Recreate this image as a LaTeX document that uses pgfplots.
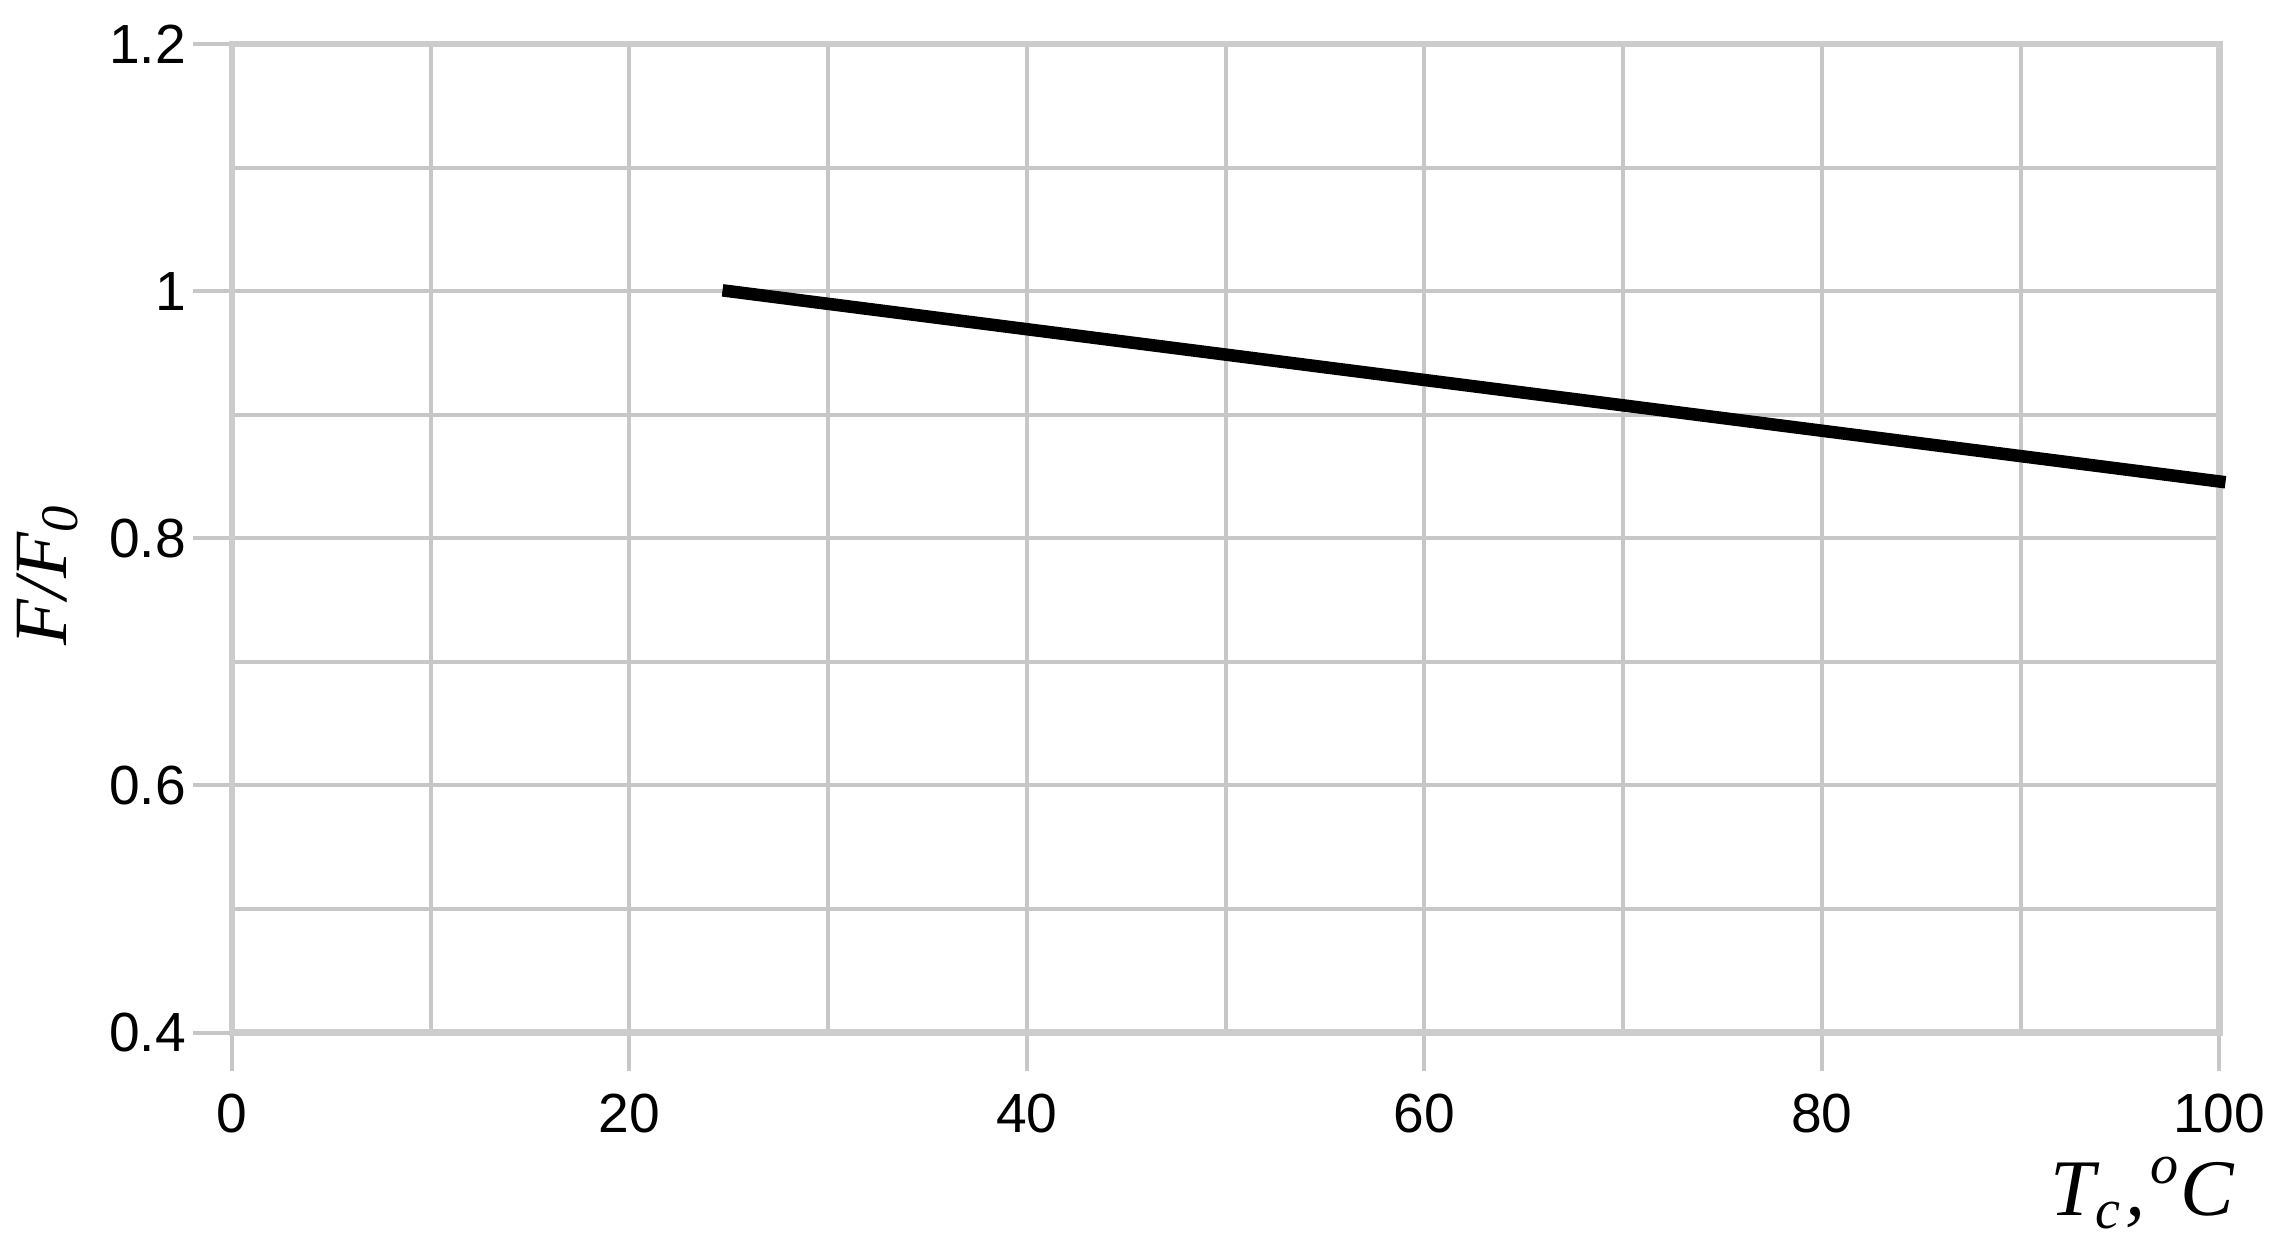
\documentclass[border=0pt]{standalone}
\usepackage{fontspec}
\setmainfont{Liberation Sans}
\newfontfamily\serifit{Liberation Serif}
\usepackage{pgfplots}
\pgfplotsset{compat=1.18}

\begin{document}
\begin{tikzpicture}
\begin{axis}[
    scale only axis,
    width=13.93cm, height=6.93cm,
    xmin=0, xmax=100,
    ymin=0.4, ymax=1.2,
    xtick={0,20,...,100},
    minor xtick={10,30,...,90},
    ytick={0.4,0.6,...,1.21},
    minor ytick={0.5,0.7,...,1.11},
    tick pos=left,
    grid=both,
    grid style={black!22, line width=0.8pt},
    minor grid style={black!22, line width=0.8pt},
    axis line style={black!20, line width=1.3pt},
    tick align=outside,
    major tick length=0.27cm,
    minor tick length=0pt,
    major tick style={black!22, line width=0.8pt},
    tick label style={font=\fontsize{11}{11}\selectfont},
    /pgf/number format/assume math mode=true,
    yticklabel style={/pgf/number format/fixed, xshift=2pt},
    xticklabel style={yshift=-1pt},
    xlabel={\serifit\itshape\fontsize{16}{16}\selectfont T\textsubscript{c}\kern0.5pt,\kern1pt\textsuperscript{o}C},
    xlabel style={at={(rel axis cs:1.008,-0.125)}, anchor=north east, inner sep=0pt},
    ylabel={\serifit\itshape\fontsize{15}{15}\selectfont F/F\textsubscript{0}},
    ylabel style={at={(rel axis cs:-0.0926,0.463)}, anchor=center, rotate=0},
    clip=false,
]
\addplot[black, line width=2.5pt, line cap=rect] coordinates {
    (25,1.000) (100,0.846)
};
\path[draw=none] (rel axis cs:-0.1167,-0.2113) rectangle (rel axis cs:1.0312,1.0445);
\end{axis}
\end{tikzpicture}
\end{document}
